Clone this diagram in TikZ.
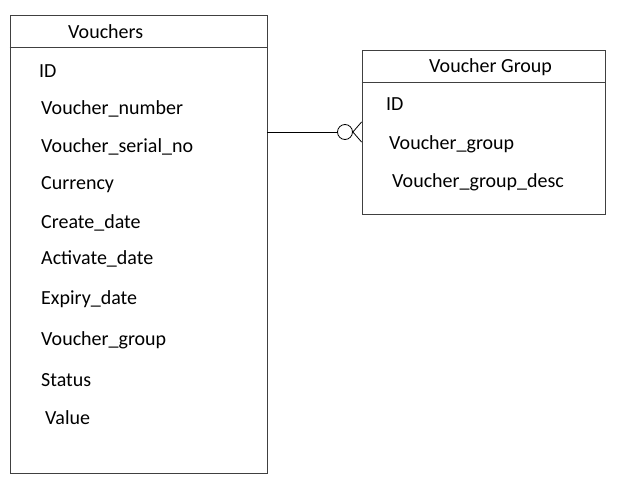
\documentclass[tikz,border=0pt]{standalone}
\usepackage{fontspec}
\setmainfont{Carlito}
\usetikzlibrary{calc}
\usetikzlibrary{positioning}
\definecolor{boxgray}{rgb}{0.25,0.25,0.25}

\begin{document}
\begin{tikzpicture}[x=1pt,y=-1pt,
	entity/.style={draw=boxgray,line width=0.9pt,rectangle,inner sep=0pt},
	field/.style={anchor=west,inner sep=0pt,font=\fontsize{20}{24}\selectfont}]
	\useasboundingbox (0,0) rectangle (622,490);

	% entity boxes
	\node[entity,minimum width=257pt,minimum height=458pt] (vouchers) at (138.5,244) {};
	\node[entity,minimum width=243pt,minimum height=164pt] (group) at (483.5,132) {};
	\draw[boxgray,line width=0.9pt] ($(vouchers.north west)+(0,33)$) -- ($(vouchers.north east)+(0,33)$);
	\draw[boxgray,line width=0.9pt] ($(group.north west)+(0,33)$) -- ($(group.north east)+(0,33)$);

	% headers
	\node[field] (vtitle) at (68,32) {Vouchers};
	\node[field] (gtitle) at (429,67) {Voucher Group};

	% fields of Vouchers
	\node[field] (vid) at (39,71) {ID};
	\node[field] (vnum) at (41,109) {Voucher\_number};
	\node[field] (vserial) at (41,147) {Voucher\_serial\_no};
	\node[field] (vcur) at (41,185) {Currency};
	\node[field] (vcreate) at (41,223) {Create\_date};
	\node[field] (vactive) at (41,259) {Activate\_date};
	\node[field] (vexpiry) at (41,299) {Expiry\_date};
	\node[field] (vgroup) at (41,340) {Voucher\_group};
	\node[field] (vstatus) at (41,380) {Status};
	\node[field] (vvalue) at (45,418) {Value};

	% fields of Voucher Group
	\node[field] (gid) at (386,104) {ID};
	\node[field] (ggroup) at (389,144) {Voucher\_group};
	\node[field] (gdesc) at (392,182) {Voucher\_group\_desc};

	% relationship: zero or many
	\coordinate (link) at (vouchers.east |- 0,132);
	\node[draw=black,circle,line width=0.8pt,minimum size=15pt,inner sep=0pt] (zero) at (345,132) {};
	\draw[line width=0.8pt] (link) -- (zero.west);
	\draw[line width=0.8pt] ($(group.west)+(0,-10)$) -- (zero.east) -- ($(group.west)+(0,10)$);
\end{tikzpicture}
\end{document}
